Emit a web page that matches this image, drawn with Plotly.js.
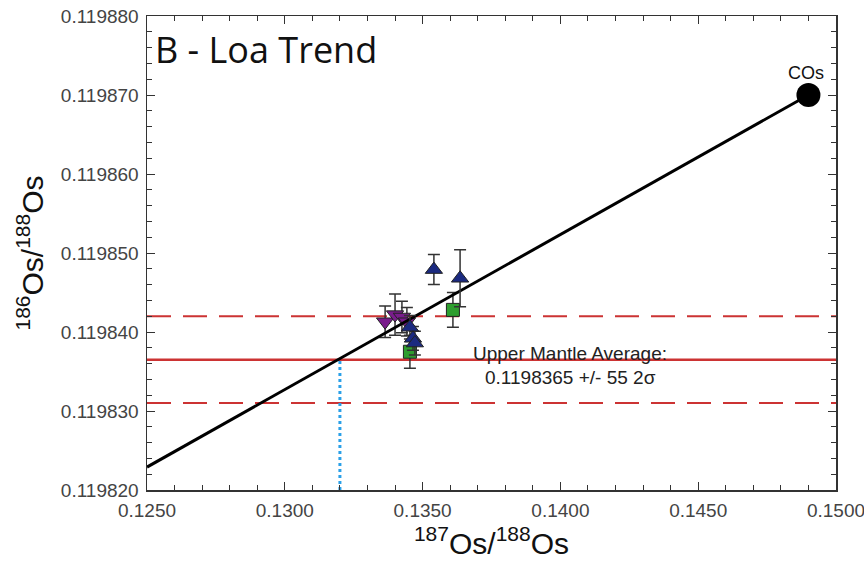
<!DOCTYPE html>
<html>
<head>
<meta charset="utf-8">
<script src="https://cdn.plot.ly/plotly-3.0.1.min.js"></script>
<style>html,body{margin:0;padding:0;background:#fff;}#chart{width:864px;height:575px;}</style>
</head>
<body>
<div id="chart"></div>
<script>
// ---- data ----
const upX = [0.13541, 0.13636, 0.13454, 0.13465, 0.13472];
const upY = [0.1198479, 0.1198468, 0.1198406, 0.1198392, 0.1198386];
const upErr = [0.0000019, 0.0000036, 0.0000015, 0.0000015, 0.0000015];

const sqX = [0.13610, 0.13454];
const sqY = [0.1198428, 0.1198375];
const sqErr = [0.0000022, 0.0000021];

const downX = [0.13364, 0.13400, 0.13425, 0.13443];
const downY = [0.1198413, 0.1198422, 0.1198419, 0.1198413];
const downErr = [0.0000020, 0.0000026, 0.0000020, 0.0000018];

const cosX = [0.1490];
const cosY = [0.119870];

const trendX = [0.1250, 0.1490];
const trendY = [0.1198229, 0.119870];

const mantleAvg = 0.1198365;
const mantleHi = 0.119842;
const mantleLo = 0.119831;
const xRange = [0.1250, 0.1500];
const yRange = [0.119820, 0.119880];
const crossX = 0.1320;

const tickFont = {family: 'Liberation Sans, Arial, sans-serif', size: 19, color: '#444'};
const errStyle = (arr) => ({type: 'data', array: arr, visible: true, color: '#333', thickness: 1.5, width: 6});

const traces = [
  {x: xRange, y: [mantleHi, mantleHi], mode: 'lines', line: {color: '#cc3333', width: 2, dash: '24px,12px'}, hoverinfo: 'skip'},
  {x: xRange, y: [mantleLo, mantleLo], mode: 'lines', line: {color: '#cc3333', width: 2, dash: '24px,12px'}, hoverinfo: 'skip'},
  {x: xRange, y: [mantleAvg, mantleAvg], mode: 'lines', line: {color: '#cc3333', width: 2.5}, hoverinfo: 'skip'},
  {x: [crossX, crossX], y: [yRange[0], mantleAvg], mode: 'lines', line: {color: '#2aa0e8', width: 3, dash: '3px,3px'}, hoverinfo: 'skip'},
  {x: sqX, y: sqY, mode: 'markers', error_y: errStyle(sqErr),
   marker: {symbol: 'square', size: 13, color: '#2e9e2e', line: {color: '#222', width: 1}}},
  {x: downX, y: downY, mode: 'markers', error_y: errStyle(downErr),
   marker: {symbol: 'triangle-down', size: 15, color: '#7a1c8c', line: {color: '#222', width: 1}}},
  {x: trendX, y: trendY, mode: 'lines', line: {color: '#000', width: 3}, hoverinfo: 'skip'},
  {x: upX, y: upY, mode: 'markers', error_y: errStyle(upErr),
   marker: {symbol: 'triangle-up', size: 15, color: '#1b2a80', line: {color: '#222', width: 1}}},
  {x: cosX, y: cosY, mode: 'markers', marker: {symbol: 'circle', size: 24, color: '#000'}}
];

const axisCommon = {
  showline: true, linecolor: '#333', linewidth: 1.5, mirror: 'allticks',
  ticks: 'inside', ticklen: 8, tickwidth: 1, tickcolor: '#333',
  showgrid: false, zeroline: false, tickfont: tickFont, ticklabelstandoff: 3,
  ticklabeloverflow: 'allow'
};

const layout = {
  width: 864, height: 575,
  margin: {l: 147, r: 28, t: 16, b: 85},
  paper_bgcolor: '#fff', plot_bgcolor: '#fff',
  showlegend: false,
  xaxis: Object.assign({}, axisCommon, {
    range: xRange, dtick: 0.005, tick0: 0.125, tickformat: '.4f',
    minor: {dtick: 0.001, ticks: 'inside', ticklen: 5, tickcolor: '#333', showgrid: false},
    title: {text: '<sup>187</sup>Os/<sup>188</sup>Os', font: {family: 'Liberation Sans, Arial, sans-serif', size: 30, color: '#111'}, standoff: 12}
  }),
  yaxis: Object.assign({}, axisCommon, {
    range: yRange, dtick: 0.00001, tick0: 0.11982, tickformat: '.6f',
    minor: {dtick: 0.000002, ticks: 'inside', ticklen: 5, tickcolor: '#333', showgrid: false},
    title: {text: '<sup>186</sup>Os/<sup>188</sup>Os', font: {family: 'Liberation Sans, Arial, sans-serif', size: 30, color: '#111'}, standoff: 8}
  }),
  annotations: [
    {xref: 'paper', yref: 'paper', x: 0.008, y: 0.93, xanchor: 'left', yanchor: 'middle',
     text: 'B - Loa Trend', showarrow: false, font: {family: 'Open Sans, sans-serif', size: 36, color: '#111'}},
    {xref: 'x', yref: 'y', x: 0.14035, y: 0.1198373, xanchor: 'center', yanchor: 'middle',
     text: 'Upper Mantle Average:', showarrow: false, font: {family: 'Liberation Sans, Arial, sans-serif', size: 19, color: '#222'}},
    {xref: 'x', yref: 'y', x: 0.14035, y: 0.1198343, xanchor: 'center', yanchor: 'middle',
     text: '0.1198365 +/- 55 2σ', showarrow: false, font: {family: 'Liberation Sans, Arial, sans-serif', size: 19, color: '#222'}},
    {xref: 'x', yref: 'y', x: 0.14891, y: 0.1198728, xanchor: 'center', yanchor: 'middle',
     text: 'COs', showarrow: false, font: {family: 'Liberation Sans, Arial, sans-serif', size: 18, color: '#111'}}
  ]
};

Plotly.newPlot('chart', traces, layout, {staticPlot: true, displayModeBar: false});
</script>
</body>
</html>
